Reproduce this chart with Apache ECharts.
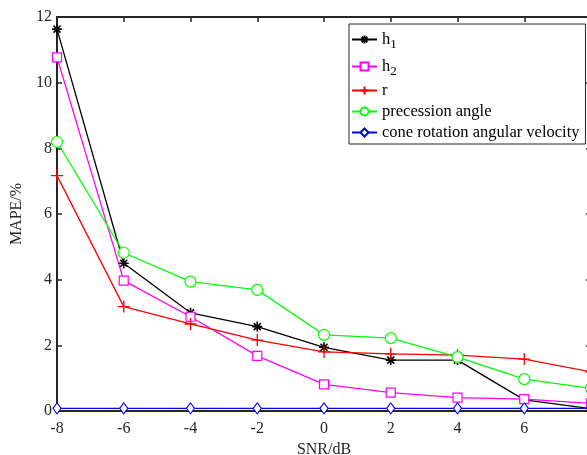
<!DOCTYPE html>
<html>
<head>
<meta charset="utf-8">
<script src="https://cdn.jsdelivr.net/npm/echarts@6/dist/echarts.min.js"></script>
<style>
html,body{margin:0;padding:0;background:#fff;}
#c{width:587px;height:455px;}
</style>
</head>
<body>
<div id="c"></div>
<script>
const snr = [-8, -6, -4, -2, 0, 2, 4, 6, 8];
const h1 = [11.63, 4.50, 2.99, 2.57, 1.94, 1.55, 1.55, 0.34, 0.07];
const h2 = [10.77, 3.97, 2.87, 1.68, 0.81, 0.56, 0.41, 0.36, 0.23];
const r = [7.17, 3.18, 2.65, 2.16, 1.80, 1.74, 1.70, 1.58, 1.19];
const precession = [8.20, 4.82, 3.94, 3.69, 2.32, 2.22, 1.64, 0.97, 0.69];
const coneVel = [0.08, 0.08, 0.08, 0.08, 0.08, 0.08, 0.08, 0.08, 0.08];
const seriesNames = ['h1', 'h2', 'r', 'precession angle', 'cone rotation angular velocity'];
const xTicks = [-8, 8, 2];
const yTicks = [0, 12, 2];

const FONT = 'Liberation Serif';
const AX = '#262626';
const pair = arr => snr.map((x, i) => [x, arr[i]]);

const plusPath = 'path://M0,5 L10,5 M5,0 L5,10';
const starPath = 'path://M0,5 L10,5 M5,0 L5,10 M1.5,1.5 L8.5,8.5 M8.5,1.5 L1.5,8.5';

function mk(name, data, color, symbol, size, extra) {
  return Object.assign({
    name: name, type: 'line', data: pair(data),
    symbol: symbol, symbolSize: size,
    lineStyle: {color: color, width: 1.3},
    itemStyle: {color: '#fff', borderColor: color, borderWidth: 1.2},
    animation: false, z: 3
  }, extra || {});
}

const chart = echarts.init(document.getElementById('c'), null, {renderer: 'canvas'});
const baseAxis = {
  axisLine: {show: true, onZero: false, lineStyle: {color: AX, width: 2}},
  axisTick: {show: true, inside: true, length: 5, lineStyle: {color: AX, width: 1.5}},
  splitLine: {show: false}
};
chart.setOption({
  animation: false,
  backgroundColor: '#fff',
  grid: {left: 57, top: 17, width: 534, height: 394, containLabel: false, outerBoundsMode: 'none'},
  legend: {
    orient: 'vertical', left: 349, top: 24,
    backgroundColor: '#fff', borderColor: AX, borderWidth: 1,
    padding: [4, 6, 3, 2], itemGap: 4, itemWidth: 25, itemHeight: 10,
    data: seriesNames,
    formatter: function (n) {
      if (n === 'h1') return '{m|h}{s|1}';
      if (n === 'h2') return '{m|h}{s|2}';
      return '{m|' + n + '}';
    },
    textStyle: {
      fontFamily: FONT, fontSize: 16.5, color: '#000', lineHeight: 16,
      rich: {
        m: {fontFamily: FONT, fontSize: 16.5, color: '#000', lineHeight: 16},
        s: {fontFamily: FONT, fontSize: 13, color: '#000', lineHeight: 13, padding: [10, 0, 0, 0]}
      }
    }
  },
  xAxis: [
    Object.assign({}, baseAxis, {
      type: 'value', position: 'bottom', min: xTicks[0], max: xTicks[1], interval: xTicks[2],
      name: 'SNR/dB', nameLocation: 'middle', nameGap: 27,
      nameTextStyle: {fontFamily: FONT, fontSize: 16, color: AX},
      axisLabel: {fontFamily: FONT, fontSize: 16, color: AX, margin: 10}
    }),
    Object.assign({}, baseAxis, {
      type: 'value', position: 'top', min: xTicks[0], max: xTicks[1], interval: xTicks[2],
      axisLabel: {show: false}
    })
  ],
  yAxis: [
    Object.assign({}, baseAxis, {
      type: 'value', position: 'left', min: yTicks[0], max: yTicks[1], interval: yTicks[2],
      name: 'MAPE/%', nameLocation: 'middle', nameGap: 27,
      nameTextStyle: {fontFamily: FONT, fontSize: 16, color: AX},
      axisLabel: {fontFamily: FONT, fontSize: 16, color: AX, margin: 5}
    }),
    Object.assign({}, baseAxis, {
      type: 'value', position: 'right', min: yTicks[0], max: yTicks[1], interval: yTicks[2],
      axisLabel: {show: false}
    })
  ],
  series: [
    mk(seriesNames[0], h1, '#000000', starPath, 10, {itemStyle: {color: '#000', borderColor: '#000', borderWidth: 1.6}}),
    mk(seriesNames[1], h2, '#ff00ff', 'rect', 9),
    mk(seriesNames[2], r, '#ff0000', plusPath, 12, {itemStyle: {color: '#ff0000', borderColor: '#ff0000', borderWidth: 1.3}}),
    mk(seriesNames[3], precession, '#00ff00', 'circle', 11),
    mk(seriesNames[4], coneVel, '#0000ff', 'diamond', [8, 11])
  ]
});
</script>
</body>
</html>
